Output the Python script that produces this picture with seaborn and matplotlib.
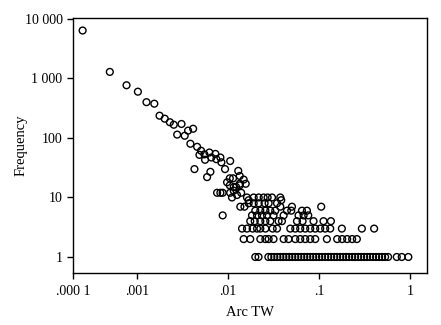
import numpy as np
import pandas as pd
import matplotlib
matplotlib.use("Agg")
import matplotlib.pyplot as plt
import seaborn as sns
from matplotlib.ticker import FixedLocator, FixedFormatter, NullLocator

# ---- data ----
# points with frequency above 8
x_upper = [0.000255, 0.000507, 0.000773, 0.00103, 0.00128, 0.00156, 0.00178,
           0.00203, 0.00231, 0.00255, 0.00310, 0.00278, 0.00336, 0.00366,
           0.00416, 0.00388, 0.00460, 0.00508, 0.00488, 0.00553, 0.00562,
           0.00627, 0.00659, 0.00730, 0.00748, 0.00828, 0.00849, 0.0106,
           0.00931, 0.00430, 0.00643, 0.00592, 0.0130, 0.0135, 0.0105,
           0.0114, 0.0098, 0.0149, 0.0135, 0.0157, 0.0105, 0.0116, 0.0123,
           0.0116, 0.0140, 0.00762, 0.00828, 0.00877, 0.0135, 0.0126, 0.0111,
           0.0106, 0.0162, 0.0169, 0.0385]
y_upper = [6400, 1290, 770, 600, 400, 377, 237,
           211, 184, 167, 172, 114, 109, 133,
           143, 80, 71, 61, 52, 53, 43,
           57, 47, 54, 44, 47, 39, 41,
           30, 30, 27, 22, 28, 23, 21,
           21, 18, 20, 17, 17, 16, 15, 15,
           13, 12, 12, 12, 12, 16, 11, 10,
           12, 10, 9, 9]

x_freq10 = [0.0192, 0.0218, 0.0247, 0.0273, 0.0305, 0.0376]
x_freq8 = [0.0169, 0.0192, 0.0218, 0.0253, 0.0280, 0.0346]
x_freq7 = [0.0137, 0.0152, 0.0376, 0.0505, 0.1057]
x_freq6 = [0.0200, 0.0227, 0.0258, 0.0292, 0.0331, 0.0445, 0.0496, 0.0650,
           0.0737]
x_freq5 = [0.00877, 0.0184, 0.0209, 0.0237, 0.0269, 0.0317, 0.0409, 0.0596,
           0.0677, 0.0762]
x_freq4 = [0.0176, 0.0197, 0.0227, 0.0258, 0.0292, 0.0360, 0.0392, 0.0573,
           0.0660, 0.0871, 0.1120, 0.1350]
x_freq3 = [0.0143, 0.0162, 0.0187, 0.0209, 0.0227, 0.0258, 0.0310, 0.0346,
           0.0484, 0.0549, 0.0622, 0.0706, 0.0801, 0.0909, 0.1031, 0.1169,
           0.1327, 0.1781, 0.2951, 0.4025]
x_freq2 = [0.0149, 0.0176, 0.0227, 0.0258, 0.0280, 0.0317, 0.0409, 0.0463,
           0.0549, 0.0622, 0.0706, 0.0801, 0.0909, 0.1220, 0.1582, 0.1795,
           0.2036, 0.2310, 0.2601]
x_freq1 = [0.0200, 0.0217, 0.0278, 0.0300, 0.0323, 0.0349, 0.0376, 0.0406,
           0.0438, 0.0472, 0.0509, 0.0549, 0.0592, 0.0639, 0.0689, 0.0743,
           0.0801, 0.0864, 0.0932, 0.1005, 0.108, 0.117, 0.126, 0.136, 0.147,
           0.158, 0.171, 0.184, 0.199, 0.214, 0.231, 0.249, 0.269, 0.290,
           0.313, 0.337, 0.364, 0.392, 0.423, 0.456, 0.492, 0.531, 0.573,
           0.713, 0.809, 0.955]

x_tick_values = [0.0002, 0.001, 0.01, 0.1, 1]
x_tick_labels = [".000 1", ".001", ".01", ".1", "1"]
y_tick_values = [1, 10, 100, 1000, 10000]
y_tick_labels = ["1", "10", "100", "1 000", "10 000"]

# ---- assemble table ----
frames = [pd.DataFrame({"arc_tw": x_upper, "frequency": y_upper})]
for freq, xs in [(10, x_freq10), (8, x_freq8), (7, x_freq7), (6, x_freq6),
                 (5, x_freq5), (4, x_freq4), (3, x_freq3), (2, x_freq2),
                 (1, x_freq1)]:
    frames.append(pd.DataFrame({"arc_tw": xs, "frequency": [freq] * len(xs)}))
df = pd.concat(frames, ignore_index=True)

# ---- style ----
sns.set_style("ticks")
plt.rcParams["font.family"] = ["Liberation Serif", "DejaVu Serif"]

fig = plt.figure(figsize=(4.41, 3.25), dpi=100)
ax = fig.add_axes([73 / 441, 52 / 325, 354 / 441, 254.7 / 325])

sns.scatterplot(data=df, x="arc_tw", y="frequency", marker="o", s=24,
                color="black", facecolor="none", edgecolor="black",
                linewidth=1.0, ax=ax, legend=False, zorder=3)

ax.set_xscale("log")
ax.set_yscale("log")
ax.set_xlim(0.0002, 1.53)
ax.set_ylim(0.538, 10270)

ax.xaxis.set_major_locator(FixedLocator(x_tick_values))
ax.xaxis.set_major_formatter(FixedFormatter(x_tick_labels))
ax.xaxis.set_minor_locator(NullLocator())
ax.yaxis.set_major_locator(FixedLocator(y_tick_values))
ax.yaxis.set_major_formatter(FixedFormatter(y_tick_labels))
ax.yaxis.set_minor_locator(NullLocator())

for side in ["left", "right", "top", "bottom"]:
    ax.spines[side].set_visible(True)
    ax.spines[side].set_color("black")
    ax.spines[side].set_linewidth(1.0)

ax.tick_params(axis="both", which="major", direction="out", length=4.5,
               width=1.0, color="black", labelsize=10, labelcolor="black",
               pad=3, top=False, right=False)
ax.tick_params(axis="x", pad=4)

ax.set_xlabel("Arc TW", fontsize=10.5, color="black", labelpad=6)
ax.set_ylabel("Frequency", fontsize=10.5, color="black")
ax.yaxis.set_label_coords(-0.128, 0.5)

fig.savefig("out.png", dpi=100)
